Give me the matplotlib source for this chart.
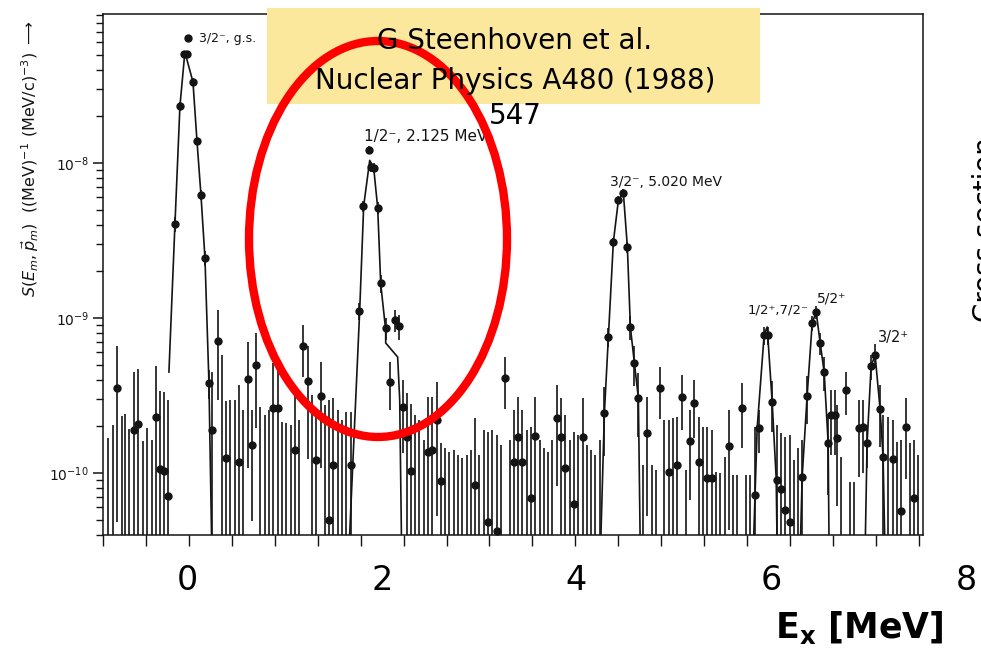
import matplotlib
matplotlib.use("Agg")
import matplotlib.pyplot as plt
from matplotlib.patches import Ellipse, Rectangle
from matplotlib.ticker import LogLocator, NullFormatter
from matplotlib.transforms import blended_transform_factory
import numpy as np

UNIT = 1e-10   # spectral function values below are in units of 1e-10

# --- spectrum: energy (MeV), value, upper end of error bar
# value 0 means the point sits below the plotted range (only the bar shows)
left_e = [-0.810, -0.759, -0.718, -0.667, -0.636, -0.595, -0.544, -0.503, -0.451, -0.410,
          -0.359, -0.318, -0.277, -0.236, -0.195]
left_s = [0, 0, 3.54, 0, 0, 0, 1.89, 2.07, 0, 0, 0, 2.30, 1.06, 1.03, 0.71]
left_top = [1.68, 2.04, 6.6, 2.33, 2.40, 1.92, 4.48, 4.69, 1.61, 1.95, 1.63, 4.90, 3.38, 3.33, 2.96]

gs_e = [-0.123, -0.072, -0.031, 0.0, 0.010, 0.062, 0.103, 0.144, 0.185, 0.226, 0.256]
gs_s = [40.4, 233, 505, 505, 640, 333, 139, 62.2, 24.4, 3.81, 1.89]
gs_top = [45, 248, 530, 530, 665, 352, 148, 67, 27, 4.6, 4.48]

mid1_e = [0.314, 0.358, 0.402, 0.446, 0.490, 0.534, 0.578, 0.623, 0.667, 0.711, 0.755, 0.799,
          0.843, 0.887, 0.931, 0.975, 1.019, 1.064, 1.108, 1.152, 1.196, 1.240, 1.284, 1.328,
          1.372, 1.416, 1.461, 1.505, 1.549, 1.593, 1.637, 1.681]
mid1_s = [7.11, 0, 1.25, 0, 0, 1.18, 0, 4.04, 1.52, 4.97, 0, 0, 0, 2.63, 2.63, 0, 0, 0, 1.41, 0,
          6.60, 3.92, 0, 1.21, 3.14, 0, 0.50, 1.13, 0, 0, 0, 1.13]
mid1_top = [11.27, 5.77, 2.9, 2.96, 2.96, 3.70, 2.55, 7.00, 2.55, 8.00, 2.67, 2.37, 2.55, 5.12,
            4.97, 2.13, 2.10, 2.04, 3.28, 2.20, 9.01, 6.60, 3.19, 2.37, 5.20, 2.75, 2.96, 3.05,
            2.55, 2.20, 2.47, 2.47]

p2_e = [1.769, 1.813, 1.867, 1.892, 1.921, 1.959, 1.995, 2.041, 2.082, 2.133, 2.174, 2.215, 2.256, 2.298]
p2_s = [11.1, 52.8, 121, 94.2, 92.8, 51.3, 16.8, 8.61, 3.87, 9.70, 8.88, 2.67, 1.71, 1.03]
p2_top = [12.5, 57, 128, 101, 100, 56, 19, 10, 5.2, 11.3, 10.5, 4.0, 3.3, 2.8]

mid2_e = [2.343, 2.387, 2.431, 2.475, 2.519, 2.563, 2.607, 2.651, 2.695, 2.739, 2.784, 2.828,
          2.872, 2.916, 2.960, 3.004, 3.048, 3.092, 3.136, 3.181, 3.225, 3.269, 3.313, 3.357,
          3.401, 3.445, 3.489, 3.533, 3.577, 3.622, 3.666, 3.710, 3.754, 3.798, 3.842, 3.886,
          3.930, 3.974, 4.018, 4.063, 4.107, 4.151, 4.195, 4.239]
mid2_s = [0, 0, 0, 1.37, 1.41, 2.20, 0.89, 0, 0, 0, 0, 0, 0, 0, 0.84, 0, 0, 0.48, 0, 0.42,
          0, 4.10, 0, 1.18, 1.71, 1.18, 0, 0.69, 1.73, 0, 0, 0, 0, 2.26, 1.71, 1.08, 0, 0.63,
          0, 1.71, 0, 0, 0, 0]
mid2_top = [2.37, 2.20, 1.63, 3.09, 3.09, 3.87, 1.56, 1.45, 1.37, 1.41, 1.31, 1.25, 1.31, 1.41,
            2.26, 1.31, 1.89, 1.84, 1.89, 1.76, 1.52, 5.60, 1.63, 2.55, 3.09, 2.55, 1.89, 1.98,
            3.09, 1.63, 1.45, 1.37, 1.63, 3.70, 3.05, 2.37, 1.63, 1.84, 1.76, 3.05, 1.52, 1.41,
            1.31, 1.63]

p3_e = [4.287, 4.328, 4.379, 4.431, 4.482, 4.523, 4.554, 4.595, 4.636]
p3_s = [2.44, 7.54, 30.9, 57.7, 64.0, 28.7, 8.75, 5.12, 3.05]
p3_top = [3.6, 8.6, 33, 61, 68, 31, 10.3, 6.6, 4.4]

mid3_e = [4.683, 4.727, 4.771, 4.815, 4.859, 4.904, 4.948, 4.992, 5.036, 5.080, 5.124, 5.168,
          5.212, 5.256, 5.301, 5.345, 5.389, 5.433, 5.477, 5.521, 5.565, 5.609, 5.653, 5.697,
          5.742, 5.786, 5.830, 5.874]
mid3_s = [0, 1.81, 0, 0, 3.53, 0, 1.01, 0, 1.13, 3.09, 0, 1.61, 2.83, 1.18, 0, 0.93, 0.93, 0,
          0, 0, 1.49, 0, 0, 2.63, 0, 0, 0.72, 1.95]
mid3_top = [1.13, 3.09, 1.13, 1.05, 4.83, 2.20, 2.20, 2.26, 2.30, 4.29, 1.05, 2.55, 3.98, 2.30,
            1.98, 1.98, 1.89, 1.01, 1.0, 1.27, 2.55, 0.97, 0.97, 3.81, 0.97, 0.97, 1.98, 2.55]

right_e = [5.928, 5.969, 6.010, 6.062, 6.097, 6.144, 6.190, 6.236, 6.277, 6.318, 6.369, 6.421,
           6.462, 6.503, 6.544, 6.585, 6.615, 6.656, 6.677, 6.718, 6.769, 6.810, 6.851, 6.903,
           6.944, 6.985, 7.026, 7.067, 7.118, 7.149, 7.200, 7.251, 7.292, 7.333, 7.385, 7.426,
           7.467, 7.508]
right_s = [7.77, 7.77, 2.87, 0.90, 0.79, 0.58, 0.48, 0, 0, 0.94, 3.14, 9.29, 10.93, 6.90, 4.48,
           1.56, 2.37, 2.37, 1.68, 0, 3.43, 0, 0, 1.95, 1.98, 1.56, 4.90, 5.77, 2.59, 1.27, 0,
           1.23, 0, 0.57, 1.98, 0, 0.69, 0]
right_top = [8.8, 8.8, 3.9, 2.04, 1.81, 1.71, 1.76, 1.21, 1.45, 1.63, 4.2, 10.3, 12.0, 8.0, 5.6,
             2.4, 3.43, 3.43, 2.75, 1.27, 4.48, 0.87, 0.87, 2.96, 2.96, 2.04, 5.8, 6.8, 3.70,
             2.37, 2.30, 2.20, 1.58, 1.63, 3.05, 1.56, 1.63, 1.31]

# hand-drawn curves through the peaks (energy, value)
curves = [
    ([-0.185, -0.123, -0.072, -0.021, 0.062, 0.103, 0.144, 0.185, 0.226, 0.256],
     [4.48, 40.4, 233, 520, 333, 139, 62.2, 24.4, 3.81, 0.3]),
    ([1.662, 1.703, 1.774, 1.815, 1.877, 1.918, 1.959, 1.990, 2.041, 2.041, 2.164, 2.185, 2.205],
     [0.3, 1.13, 11.1, 52.8, 104, 92.8, 51.3, 16.6, 8.37, 6.90, 5.60, 2.96, 0.3]),
    ([4.246, 4.287, 4.328, 4.379, 4.431, 4.482, 4.523, 4.554, 4.595, 4.636, 4.656],
     [0.3, 2.44, 7.54, 30.9, 57.7, 64.0, 28.7, 8.75, 5.12, 3.05, 0.3]),
    ([5.815, 5.856, 5.928, 5.959, 6.010, 6.051, 6.062],
     [0.3, 1.95, 7.87, 8.75, 2.87, 0.93, 0.3]),
    ([6.297, 6.318, 6.369, 6.421, 6.462, 6.503, 6.544, 6.585, 6.595],
     [0.3, 0.94, 3.14, 9.29, 10.93, 6.90, 4.48, 1.56, 0.3]),
    ([6.964, 6.985, 7.026, 7.067, 7.118, 7.149, 7.169],
     [0.3, 1.56, 4.90, 5.77, 2.59, 1.27, 0.3]),
]

# state labels: text, energy, value
state_labels = ["3/2\u207b, g.s.", "1/2\u207b, 2.125 MeV", "3/2\u207b, 5.020 MeV",
                "1/2\u207a,7/2\u207b", "5/2\u207a", "3/2\u207a"]
state_e = [0.123, 1.815, 4.349, 5.754, 6.472, 7.097]
state_s = [640, 149, 75.4, 11.3, 13.3, 7.54]
state_fs = [9, 11, 10, 9.5, 10, 10.5]

y_major = [1e-10, 1e-9, 1e-8]
y_major_labels = [r"$10^{-10}$", r"$10^{-9}$", r"$10^{-8}$"]
slide_ticks = [0, 2, 4, 6, 8]

ink = "#141414"

fig = plt.figure(figsize=(9.81, 6.5), dpi=100)
ax = fig.add_axes([103 / 981, 1 - 535 / 650, 820 / 981, 521 / 650])
ax.set_yscale("log")
ax.set_xlim(-0.851, 7.559)
ax.set_ylim(0.398 * UNIT, 915 * UNIT)

e = np.array(left_e + gs_e + mid1_e + p2_e + mid2_e + p3_e + mid3_e + right_e)
s = np.array(left_s + gs_s + mid1_s + p2_s + mid2_s + p3_s + mid3_s + right_s)
top = np.array(left_top + gs_top + mid1_top + p2_top + mid2_top + p3_top + mid3_top + right_top)
lo = np.clip(2 * s - top, 0.05, None)

ax.vlines(e, lo * UNIT, top * UNIT, color=ink, lw=1.2)
shown = s > 0.4
ax.plot(e[shown], s[shown] * UNIT, "o", ms=5, color=ink)
for ce, cs in curves:
    ax.plot(ce, np.array(cs) * UNIT, color=ink, lw=1.2)

for lab, le, ls, fs in zip(state_labels, state_e, state_s, state_fs):
    ax.text(le, ls * UNIT, lab, fontsize=fs, ha="left", va="center", color=ink)

for sp in ax.spines.values():
    sp.set_color(ink)
    sp.set_linewidth(1.1)

ax.set_xticks(np.arange(-0.862, 7.6, 0.441))
ax.tick_params(axis="x", direction="out", length=8, width=1, color=ink, labelbottom=False)
ax.set_yticks(y_major, y_major_labels)
ax.yaxis.set_minor_locator(LogLocator(base=10, subs=np.arange(2, 10)))
ax.yaxis.set_minor_formatter(NullFormatter())
ax.tick_params(axis="y", which="major", direction="out", length=7, width=1.1, color=ink,
               labelsize=10, labelcolor=ink, pad=3)
ax.tick_params(axis="y", which="minor", direction="out", length=5, width=1, color=ink)

fig.text(30 / 981, 1 - 158 / 650,
         r"$S(E_m,\vec{p}_m)\ \ ((\mathrm{MeV})^{-1}\ (\mathrm{MeV/c})^{-3})\ \longrightarrow$",
         rotation=90, ha="center", va="center", fontsize=11.5, color=ink)

# slide labels for the x axis
trans = blended_transform_factory(ax.transData, fig.transFigure)
for v in slide_ticks:
    ax.text(v, 1 - 580 / 650, str(v), transform=trans, ha="center", va="center",
            fontsize=24, clip_on=False)

# slide overlay in pixel coordinates
ov = fig.add_axes([0, 0, 1, 1], zorder=5)
ov.set_xlim(0, 981)
ov.set_ylim(650, 0)
ov.axis("off")
ov.patch.set_alpha(0)
ov.add_patch(Rectangle((267, 8), 493, 96, facecolor="#fce89c", edgecolor="none"))
ov.text(515, 41, "G Steenhoven et al.", ha="center", va="center", fontsize=20)
ov.text(515, 81, "Nuclear Physics A480 (1988)", ha="center", va="center", fontsize=20)
ov.text(515, 116, "547", ha="center", va="center", fontsize=20)
ov.add_patch(Ellipse((378, 239), 258, 396, fill=False, edgecolor="#ff0000", lw=6))
ov.text(986, 230, "Cross section", rotation=90, ha="center", va="center", fontsize=20)
ov.text(859, 627, r"$\mathbf{E_x}$ [MeV]", ha="center", va="center", fontsize=25,
        fontweight="bold")

fig.savefig("out.png", dpi=100)
